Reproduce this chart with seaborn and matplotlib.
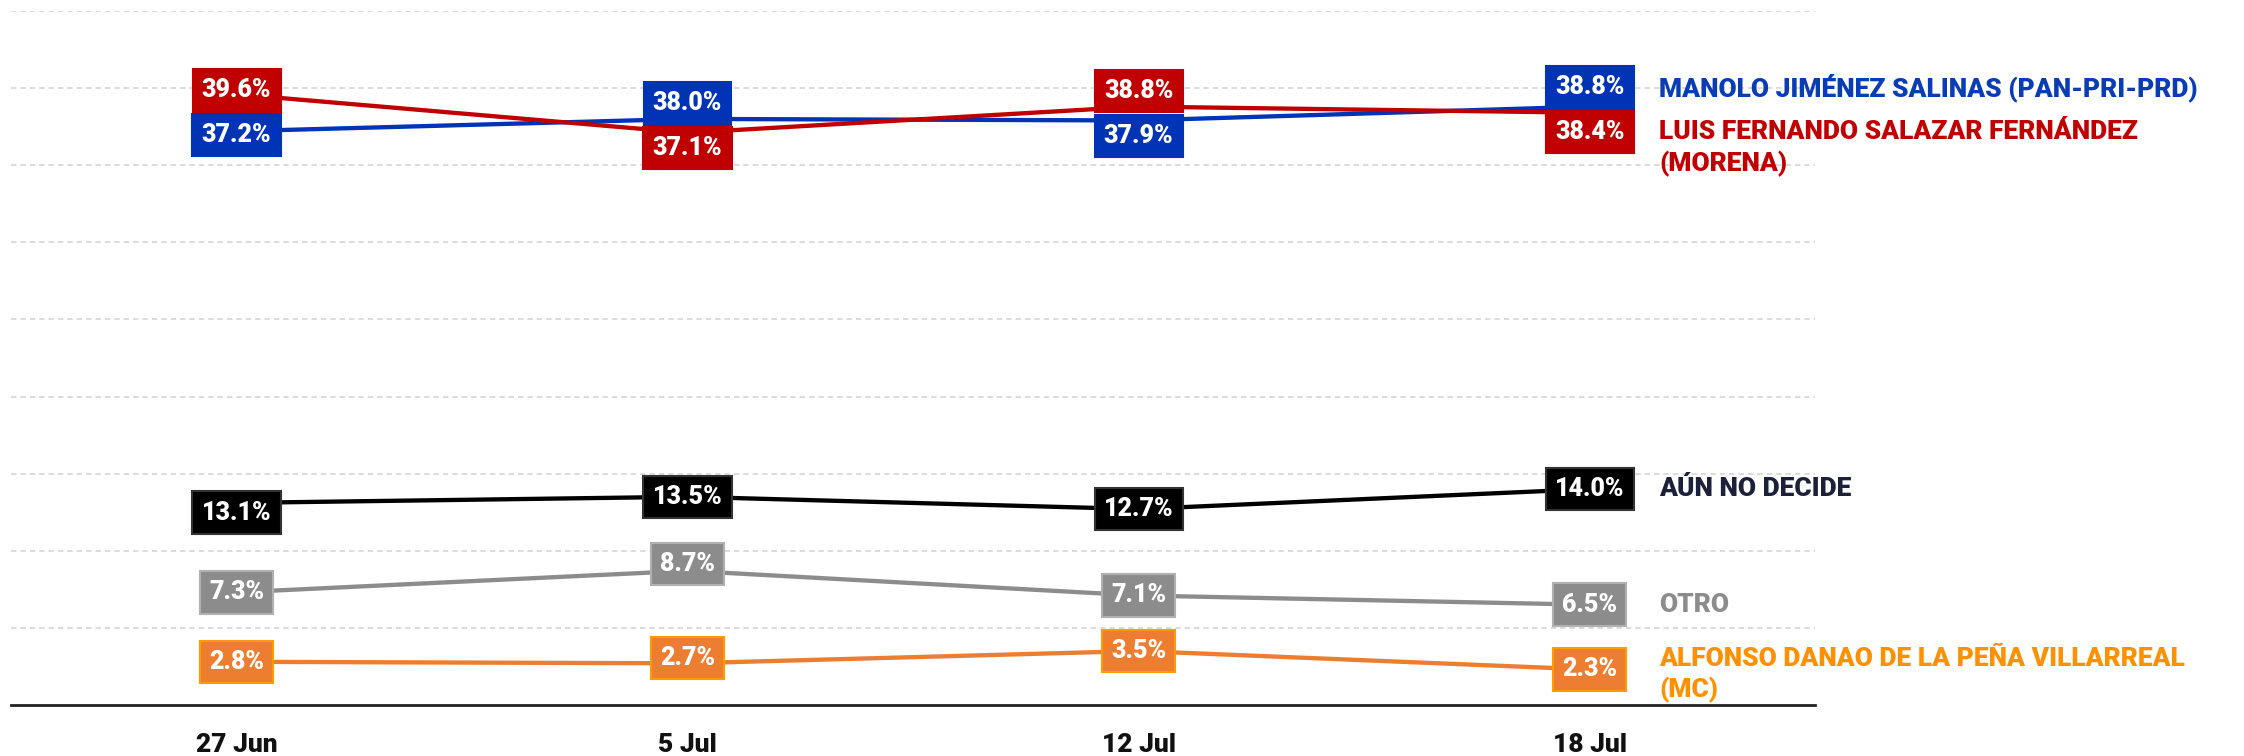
import matplotlib
matplotlib.use("Agg")
import matplotlib.pyplot as plt
import seaborn as sns
import pandas as pd
from matplotlib import font_manager

# ---------------- data ----------------
dates = ["27 Jun", "5 Jul", "12 Jul", "18 Jul"]
manolo = [37.2, 38.0, 37.9, 38.8]
luis = [39.6, 37.1, 38.8, 38.4]
aun = [13.1, 13.5, 12.7, 14.0]
otro = [7.3, 8.7, 7.1, 6.5]
alfonso = [2.8, 2.7, 3.5, 2.3]

series_names = ["MANOLO", "LUIS", "AUN", "OTRO", "ALFONSO"]
series_values = [manolo, luis, aun, otro, alfonso]
series_labels = [
    "MANOLO JIMÉNEZ SALINAS (PAN-PRI-PRD)",
    "LUIS FERNANDO SALAZAR FERNÁNDEZ\n(MORENA)",
    "AÚN NO DECIDE",
    "OTRO",
    "ALFONSO DANAO DE LA PEÑA VILLARREAL\n(MC)",
]

# ---------------- styles ----------------
line_colors = {"MANOLO": "#0033b5", "LUIS": "#c00000", "AUN": "#000000",
               "OTRO": "#8c8c8c", "ALFONSO": "#ed7d31"}
edge_colors = {"MANOLO": "#0033b5", "LUIS": "#c00000", "AUN": "#333333",
               "OTRO": "#b0b0b0", "ALFONSO": "#ff9a00"}
text_colors = {"MANOLO": "#0a3cb4", "LUIS": "#c00000", "AUN": "#1c2038",
               "OTRO": "#8c8c8c", "ALFONSO": "#ff9100"}
# small manual nudges of some value boxes (points)
box_nudge = {("AUN", 0): -7, ("OTRO", 1): 5, ("ALFONSO", 1): 4}

available = {f.name for f in font_manager.fontManager.ttflist}


def pick(cands):
    for c in cands:
        if c in available:
            return c
    return "DejaVu Sans"


main_font = pick(["Roboto", "Open Sans", "Lato", "DejaVu Sans"])
fam = [main_font, "DejaVu Sans"]
W = "black"

sns.set_theme(style="white")
plt.rcParams["font.family"] = fam

# ---------------- long-form frame ----------------
rows = []
for name, vals in zip(series_names, series_values):
    for i, v in enumerate(vals):
        rows.append({"pos": i, "value": v, "series": name})
df = pd.DataFrame(rows)

fig = plt.figure(figsize=(22.44, 7.56), dpi=100)
ax = fig.add_axes([0.0049, 0.0675, 0.804, 0.918])

sns.lineplot(data=df, x="pos", y="value", hue="series",
             hue_order=series_names, palette=line_colors,
             linewidth=3.1, legend=False, ax=ax, zorder=3)

ax.set_xlim(-0.5, 3.5)
ax.set_ylim(0, 45)
ax.set_yticks(range(5, 46, 5))
ax.yaxis.grid(True, color="#d9d9d9", linestyle=(0, (3, 2.2)), linewidth=1.3)
ax.xaxis.grid(False)
ax.set_yticklabels([])
ax.tick_params(axis="y", length=0)
ax.set_xticks(range(len(dates)))
ax.set_xticklabels(dates, fontsize=19, fontweight=W, color="#111111",
                   family=fam)
ax.tick_params(axis="x", length=0, pad=20)
for s in ["top", "right", "left"]:
    ax.spines[s].set_visible(False)
ax.spines["bottom"].set_color("#222222")
ax.spines["bottom"].set_linewidth(2)
ax.set_xlabel("")
ax.set_ylabel("")

# ---------------- value boxes ----------------
sep = 1.45  # half distance between stacked top boxes (data units)
for i in range(len(dates)):
    label_y = {n: v[i] for n, v in zip(series_names, series_values)}
    hi, lo = ("MANOLO", "LUIS") if manolo[i] >= luis[i] else ("LUIS", "MANOLO")
    mid = (manolo[i] + luis[i]) / 2
    label_y[hi] = mid + sep
    label_y[lo] = mid - sep
    for n, v in zip(series_names, series_values):
        ax.annotate(f"{v[i]:.1f}%", xy=(i, label_y[n]), xycoords="data",
                    xytext=(0, box_nudge.get((n, i), 0)),
                    textcoords="offset points",
                    ha="center", va="center",
                    fontsize=18, fontweight=W, color="white", zorder=6,
                    family=fam,
                    bbox=dict(boxstyle="square,pad=0.37", fc=line_colors[n],
                              ec=edge_colors[n], lw=1.5))

# ---------------- right-hand labels ----------------
last = len(dates) - 1
mid = (manolo[last] + luis[last]) / 2
right_pos = {
    "MANOLO": (mid + sep, 0),
    "LUIS": (mid - sep, -12),
    "AUN": (aun[last], 0),
    "OTRO": (otro[last], 0),
    "ALFONSO": (alfonso[last], -4),
}
for n, lab in zip(series_names, series_labels):
    y, dy = right_pos[n]
    ax.annotate(lab, xy=(last, y), xycoords="data",
                xytext=(50, dy), textcoords="offset points",
                ha="left", va="center", fontsize=19, fontweight=W,
                color=text_colors[n], family=fam,
                linespacing=1.32, annotation_clip=False)

fig.savefig("out.png", dpi=100)
